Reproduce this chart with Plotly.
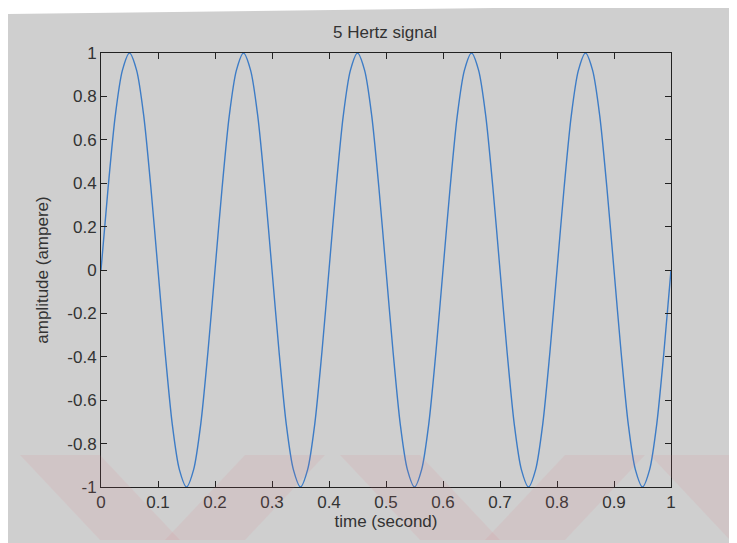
import plotly.graph_objects as go

# ---- data ----
time_s = [i * 0.0125 for i in range(81)]
amplitude = [
    0.0, 0.38, 0.71, 0.92, 1.0, 0.92, 0.71, 0.38,
    0.0, -0.38, -0.71, -0.92, -1.0, -0.92, -0.71, -0.38,
    0.0, 0.38, 0.71, 0.92, 1.0, 0.92, 0.71, 0.38,
    0.0, -0.38, -0.71, -0.92, -1.0, -0.92, -0.71, -0.38,
    0.0, 0.38, 0.71, 0.92, 1.0, 0.92, 0.71, 0.38,
    0.0, -0.38, -0.71, -0.92, -1.0, -0.92, -0.71, -0.38,
    0.0, 0.38, 0.71, 0.92, 1.0, 0.92, 0.71, 0.38,
    0.0, -0.38, -0.71, -0.92, -1.0, -0.92, -0.71, -0.38,
    0.0, 0.38, 0.71, 0.92, 1.0, 0.92, 0.71, 0.38,
    0.0, -0.38, -0.71, -0.92, -1.0, -0.92, -0.71, -0.38,
    0.0,
]
x_ticks = [0, 0.1, 0.2, 0.3, 0.4, 0.5, 0.6, 0.7, 0.8, 0.9, 1]
x_tick_labels = ["0", "0.1", "0.2", "0.3", "0.4", "0.5", "0.6", "0.7", "0.8", "0.9", "1"]
y_ticks = [-1, -0.8, -0.6, -0.4, -0.2, 0, 0.2, 0.4, 0.6, 0.8, 1]
y_tick_labels = ["-1", "-0.8", "-0.6", "-0.4", "-0.2", "0", "0.2", "0.4", "0.6", "0.8", "1"]

# the page body adds an 8px offset, so the figure is sized to fill the rest
OFF = 8
W, H = 737 - OFF, 543 - OFF
L, R, T, B = 101 - OFF, 66, 53 - OFF, 56
PW, PH = W - L - R, H - T - B

def px(x):  # window pixel x -> paper fraction
    return (x - OFF - L) / PW

def py(y):  # window pixel y -> paper fraction
    return (H - B - (y - OFF)) / PH

font = "Liberation Sans, Arial, sans-serif"
txt = "#333333"

fig = go.Figure()
fig.add_trace(go.Scatter(
    x=time_s, y=amplitude, mode="lines",
    line=dict(color="#3d7cc6", width=1.4, shape="spline", smoothing=0.8),
    showlegend=False, hoverinfo="skip",
))

shapes = []
# scanned page: gray area with a slanted white strip at the top
shapes.append(dict(
    type="path", xref="paper", yref="paper", layer="below",
    path=(f"M {px(8)},{py(14)} L {px(494)},{py(8)} L {px(737)},{py(8)} "
          f"L {px(737)},{py(543)} L {px(8)},{py(543)} Z"),
    fillcolor="#cfcfcf", line=dict(width=0),
))
# faint pink watermark stripes at the bottom
stripes = [
    (20, 100, 100, 180),
    (245, 325, 165, 245),
    (340, 420, 420, 500),
    (565, 645, 485, 565),
    (650, 737, 730, 817),
]
for x0, x1, b0, b1 in stripes:
    shapes.append(dict(
        type="path", xref="paper", yref="paper", layer="above",
        path=(f"M {px(x0)},{py(455)} L {px(x1)},{py(455)} "
              f"L {px(b1)},{py(540)} L {px(b0)},{py(540)} Z"),
        fillcolor="rgba(225,120,130,0.10)", line=dict(width=0),
    ))

axis_common = dict(
    showgrid=False, zeroline=False, showline=True, linecolor="#222222",
    linewidth=1, mirror="ticks", ticks="inside", ticklen=6, tickcolor="#222222",
    tickfont=dict(family=font, size=17, color=txt),
)

fig.update_layout(
    width=W, height=H,
    margin=dict(l=L, r=R, t=T, b=B, autoexpand=False),
    paper_bgcolor="white", plot_bgcolor="white",
    title=dict(text="5 Hertz signal", xref="container", x=(385 - OFF) / W,
               xanchor="center", yref="container", y=1 - (32 - OFF) / H,
               yanchor="middle",
               font=dict(family=font, size=17, color=txt)),
    xaxis=dict(range=[0, 1], tickvals=x_ticks, ticktext=x_tick_labels,
               title=dict(text="time (second)", standoff=3,
                          font=dict(family=font, size=17, color=txt)),
               automargin=False, **axis_common),
    yaxis=dict(range=[-1, 1], tickvals=y_ticks, ticktext=y_tick_labels,
               title=dict(text="amplitude (ampere)", standoff=14,
                          font=dict(family=font, size=17, color=txt)),
               automargin=False, **axis_common),
    shapes=shapes,
)

fig.write_html("out.html")
